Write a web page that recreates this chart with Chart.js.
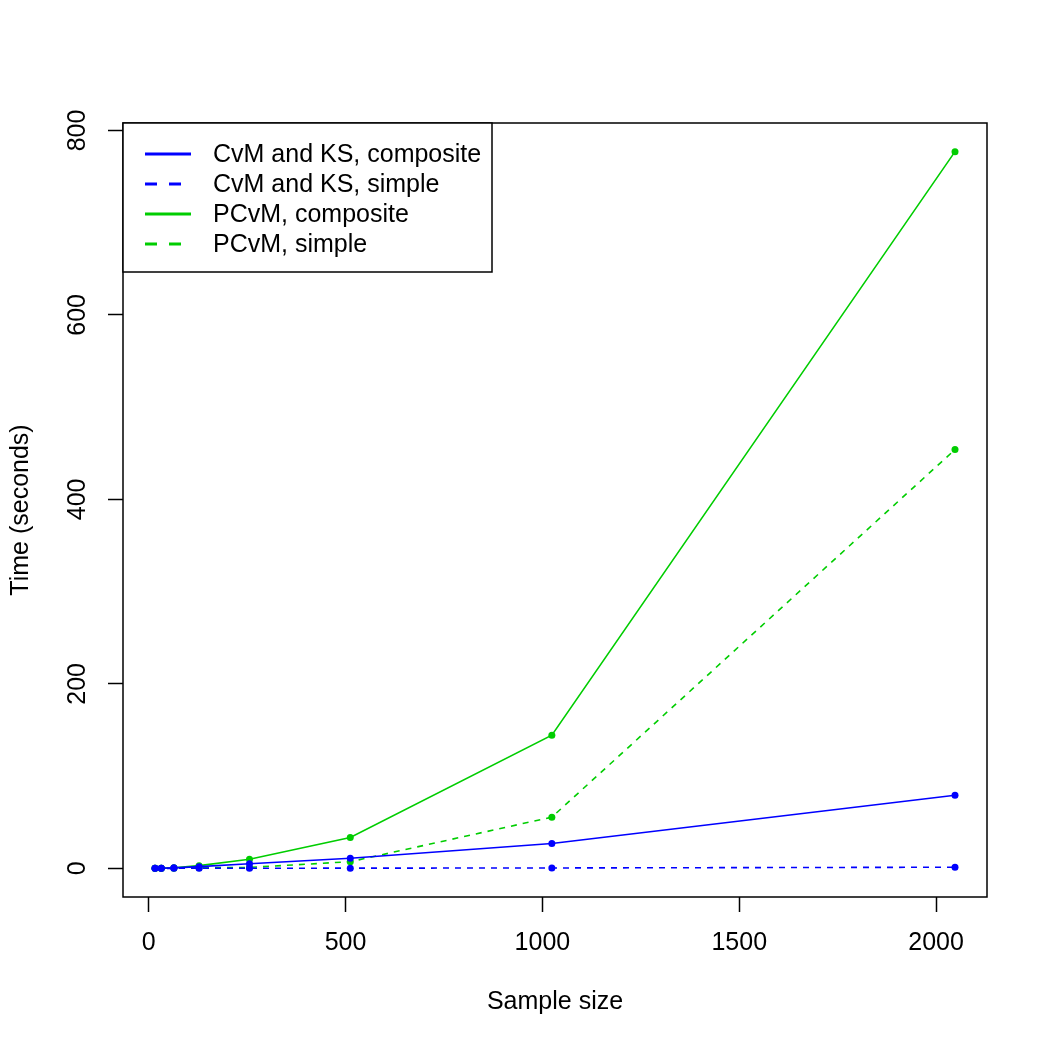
<!DOCTYPE html>
<html>
<head>
<meta charset="utf-8">
<title>Time vs sample size</title>
<script src="https://cdn.jsdelivr.net/npm/chart.js@4.4.1/dist/chart.umd.min.js"></script>
<style>
    html, body { margin: 0; padding: 0; background: #fff; }
    #chart { display: block; }
</style>
</head>
<body>
<canvas id="chart" width="1050" height="1050"></canvas>
<script>
// sample sizes (x) and timings in seconds (y)
const sampleSizes = [16, 32, 64, 128, 256, 512, 1024, 2048];
const cvmKsComposite = [0.1, 0.2, 0.5, 1.8, 5.0, 11.0, 27.0, 79.2];
const cvmKsSimple = [0, 0, 0, 0.1, 0.1, 0.2, 0.4, 1.2];
const pcvmComposite = [0.1, 0.2, 0.6, 2.9, 9.8, 33.5, 144.4, 777];
const pcvmSimple = [0, 0.1, 0.2, 0.6, 1.0, 7.2, 55.5, 454];

const seriesLabels = ['CvM and KS, composite', 'CvM and KS, simple', 'PCvM, composite', 'PCvM, simple'];
const xTicks = [0, 500, 1000, 1500, 2000];
const yTicks = [0, 200, 400, 600, 800];

const BLUE = '#0000FF';
const GREEN = '#00CD00';
const FONT = '"Liberation Sans", Arial, Helvetica, sans-serif';
const FONT_SIZE = 25;

Chart.defaults.font.family = FONT;
Chart.defaults.font.size = FONT_SIZE;
Chart.defaults.color = '#000';

function toPoints(values) {
    return sampleSizes.map((x, i) => ({ x: x, y: values[i] }));
}

function makeDataset(label, values, color, dashed) {
    return {
        label: label,
        data: toPoints(values),
        showLine: true,
        borderColor: color,
        backgroundColor: color,
        borderWidth: 1.6,
        borderDash: dashed ? [6, 6] : [],
        pointRadius: 3.5,
        pointBorderWidth: 0,
        pointBackgroundColor: color,
        tension: 0,
    };
}

// box round the plot region, like R's box()
const plotBox = {
    id: 'plotBox',
    afterDraw(chart) {
        const { ctx, chartArea: a } = chart;
        ctx.save();
        ctx.strokeStyle = '#000';
        ctx.lineWidth = 1.5;
        ctx.strokeRect(a.left, a.top, a.right - a.left, a.bottom - a.top);
        ctx.restore();
    }
};

// legend in the top left corner of the plot region
const cornerLegend = {
    id: 'cornerLegend',
    afterDraw(chart) {
        const { ctx, chartArea: a } = chart;
        const x0 = a.left, y0 = a.top;
        ctx.save();
        ctx.fillStyle = '#fff';
        ctx.fillRect(x0, y0, 369, 149);
        ctx.strokeStyle = '#000';
        ctx.lineWidth = 1.5;
        ctx.strokeRect(x0, y0, 369, 149);

        ctx.font = FONT_SIZE + 'px ' + FONT;
        ctx.textBaseline = 'middle';
        ctx.textAlign = 'left';
        chart.data.datasets.forEach((ds, i) => {
            const y = y0 + 31 + i * 30;
            ctx.beginPath();
            ctx.strokeStyle = ds.borderColor;
            ctx.lineWidth = 3;
            ctx.setLineDash(ds.borderDash.length ? [12, 12] : []);
            ctx.moveTo(x0 + 22, y);
            ctx.lineTo(x0 + 68, y);
            ctx.stroke();
            ctx.setLineDash([]);
            ctx.fillStyle = '#000';
            ctx.fillText(ds.label, x0 + 90, y + 1);
        });
        ctx.restore();
    }
};

const ctx = document.getElementById('chart').getContext('2d');
new Chart(ctx, {
    type: 'scatter',
    data: {
        datasets: [
            makeDataset(seriesLabels[0], cvmKsComposite, BLUE, false),
            makeDataset(seriesLabels[1], cvmKsSimple, BLUE, true),
            makeDataset(seriesLabels[2], pcvmComposite, GREEN, false),
            makeDataset(seriesLabels[3], pcvmSimple, GREEN, true),
        ]
    },
    options: {
        responsive: false,
        animation: false,
        layout: { padding: { top: 123, right: 63, left: 0, bottom: 0 } },
        plugins: {
            legend: { display: false },
            tooltip: { enabled: false },
        },
        scales: {
            x: {
                type: 'linear',
                position: 'bottom',
                min: 16 - 0.04 * 2032,
                max: 2048 + 0.04 * 2032,
                afterBuildTicks: scale => { scale.ticks = xTicks.map(v => ({ value: v })); },
                afterFit: scale => { scale.height = 153; },
                grid: {
                    drawOnChartArea: false,
                    drawTicks: true,
                    tickLength: 15,
                    tickColor: '#000',
                    tickWidth: 1.5,
                },
                border: { display: false },
                ticks: {
                    padding: 16,
                    color: '#000',
                    font: { size: FONT_SIZE },
                    callback: v => String(v),
                },
                title: {
                    display: true,
                    text: 'Sample size',
                    color: '#000',
                    font: { size: FONT_SIZE },
                    padding: { top: 33, bottom: 33 },
                },
            },
            y: {
                type: 'linear',
                position: 'left',
                min: -0.04 * 777,
                max: 777 * 1.04,
                afterBuildTicks: scale => { scale.ticks = yTicks.map(v => ({ value: v })); },
                afterFit: scale => { scale.width = 123; },
                grid: {
                    drawOnChartArea: false,
                    drawTicks: true,
                    tickLength: 15,
                    tickColor: '#000',
                    tickWidth: 1.5,
                },
                border: { display: false },
                ticks: {
                    padding: 9,
                    color: '#000',
                    font: { size: FONT_SIZE },
                    minRotation: 90,
                    maxRotation: 90,
                    crossAlign: 'center',
                    callback: v => String(v),
                },
                title: {
                    display: true,
                    text: 'Time (seconds)',
                    color: '#000',
                    font: { size: FONT_SIZE },
                    padding: { top: 6, bottom: 0 },
                },
            },
        },
    },
    plugins: [plotBox, cornerLegend],
});
</script>
</body>
</html>
